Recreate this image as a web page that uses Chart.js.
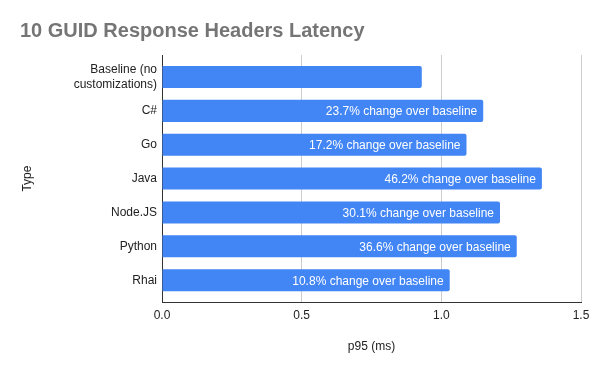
<!DOCTYPE html>
<html>
<head>
<meta charset="utf-8">
<script src="https://cdn.jsdelivr.net/npm/chart.js@4"></script>
<style>
  html, body { margin: 0; padding: 0; background: #fff; }
  #wrap { width: 600px; height: 371px; }
</style>
</head>
<body>
<div id="wrap"><canvas id="latencyChart" width="600" height="371"></canvas></div>
<script>
// chart data
const categories = [['Baseline (no', 'customizations)'], 'C#', 'Go', 'Java', 'Node.JS', 'Python', 'Rhai'];
const p95Values = [0.93, 1.15, 1.09, 1.36, 1.21, 1.27, 1.03];
const barLabels = ['', '23.7% change over baseline', '17.2% change over baseline', '46.2% change over baseline',
    '30.1% change over baseline', '36.6% change over baseline', '10.8% change over baseline'];
const xTicks = [0, 0.5, 1.0, 1.5];

const FONT = '"Liberation Sans", Arial, sans-serif';

// white labels drawn at the inner end of each bar
const barLabelPlugin = {
    id: 'barLabels',
    afterDatasetsDraw(chart) {
        const ctx = chart.ctx;
        const meta = chart.getDatasetMeta(0);
        ctx.save();
        ctx.font = '12px ' + FONT;
        ctx.fillStyle = '#ffffff';
        ctx.textAlign = 'right';
        ctx.textBaseline = 'middle';
        meta.data.forEach((bar, i) => {
            if (barLabels[i]) ctx.fillText(barLabels[i], bar.x - 6, bar.y + 1);
        });
        ctx.restore();
    }
};

new Chart(document.getElementById('latencyChart'), {
    type: 'bar',
    data: {
        labels: categories,
        datasets: [{
            data: p95Values,
            backgroundColor: '#4285f4',
            borderRadius: 2,
            borderSkipped: 'start',
            barPercentage: 0.65,
            categoryPercentage: 1.0
        }]
    },
    options: {
        indexAxis: 'y',
        responsive: false,
        animation: false,
        layout: { padding: { left: 20, right: 19, bottom: 17 } },
        plugins: {
            legend: { display: false },
            tooltip: { enabled: false },
            title: {
                display: true,
                text: '10 GUID Response Headers Latency',
                align: 'start',
                color: '#757575',
                font: { family: FONT, size: 20, weight: 'bold' },
                padding: { top: 19, bottom: 12 }
            }
        },
        scales: {
            x: {
                min: 0,
                max: 1.5,
                afterBuildTicks(scale) {
                    scale.ticks = xTicks.map(v => ({ value: v }));
                },
                ticks: {
                    color: '#222',
                    font: { family: FONT, size: 12 },
                    padding: 6,
                    callback: v => v.toFixed(1)
                },
                grid: { color: '#cccccc', drawTicks: false },
                border: { color: '#333', width: 1 },
                title: {
                    display: true,
                    text: 'p95 (ms)',
                    color: '#222',
                    font: { family: FONT, size: 12 },
                    padding: { top: 11, bottom: 0 }
                }
            },
            y: {
                afterFit(scale) { scale.width = 142; },
                afterBuildTicks(scale) {
                    // a little empty space above the first and below the last bar
                    scale._startValue -= 0.15;
                    scale._valueRange += 0.3;
                },
                ticks: {
                    color: '#222',
                    font: { family: FONT, size: 12 },
                    padding: 5
                },
                grid: { display: false, drawTicks: false },
                border: { color: '#333', width: 1 },
                title: {
                    display: true,
                    text: 'Type',
                    color: '#222',
                    font: { family: FONT, size: 12 },
                    padding: 0
                }
            }
        }
    },
    plugins: [barLabelPlugin]
});
</script>
</body>
</html>
